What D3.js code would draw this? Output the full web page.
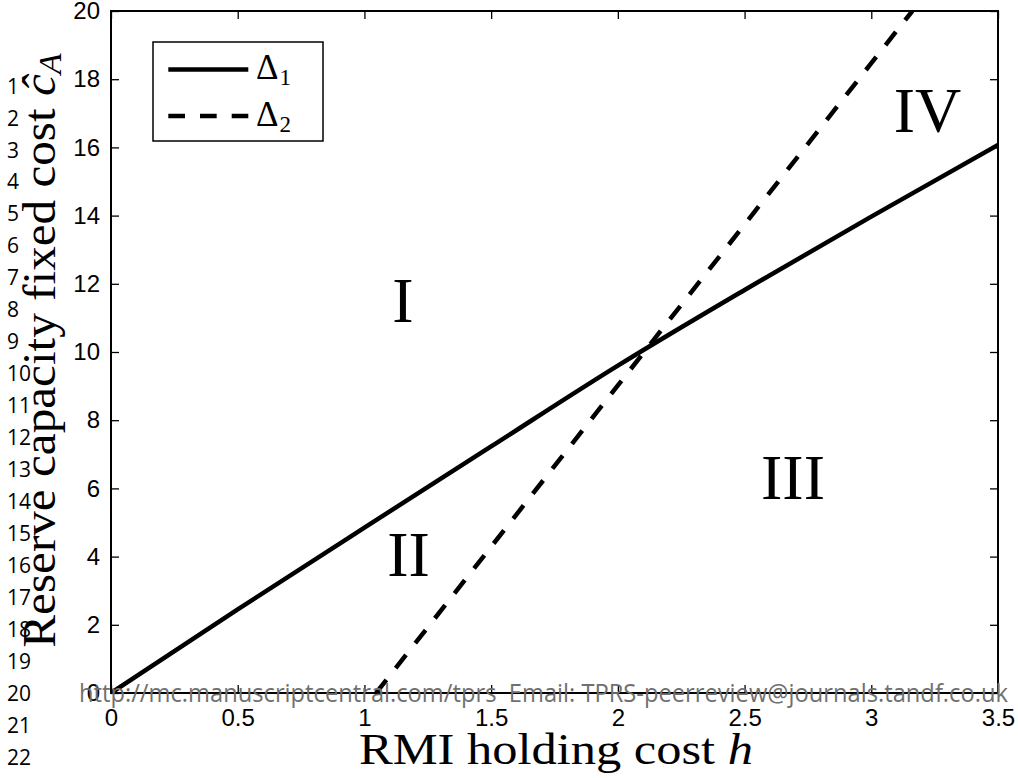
<!DOCTYPE html>
<html>
<head>
<meta charset="utf-8">
<script src="https://cdn.jsdelivr.net/npm/d3@7"></script>
<style>
  body { margin: 0; background: #fff; }
  svg { display: block; }
</style>
</head>
<body>
<svg id="chart" width="1018" height="778"></svg>
<script>
// Tick values and their labels
const hTicks = [0, 0.5, 1, 1.5, 2, 2.5, 3, 3.5];
const hTickLabels = ["0", "0.5", "1", "1.5", "2", "2.5", "3", "3.5"];
const cTicks = [0, 2, 4, 6, 8, 10, 12, 14, 16, 18, 20];
const cTickLabels = ["0", "2", "4", "6", "8", "10", "12", "14", "16", "18", "20"];

// Threshold curve Δ1 (solid)
const delta1H = [0, 0.5, 1, 1.5, 2, 2.5, 3, 3.5];
const delta1C = [0, 2.45, 4.85, 7.23, 9.6, 11.82, 13.97, 16.07];

// Threshold curve Δ2 (dashed)
const delta2H = [1.046, 1.5, 2, 2.5, 3, 3.162];
const delta2C = [0, 4.29, 9.02, 13.74, 18.47, 20];

// Region labels and their centres in data units
const regionNames = ["I", "II", "III", "IV"];
const regionH = [1.152, 1.174, 2.691, 3.222];
const regionC = [11.5, 4.05, 6.31, 17.07];

// Legend entries
const legendSubs = ["1", "2"];

// Manuscript line numbers down the left margin
const lineNumbers = d3.range(1, 23);
const footerText = "http://mc.manuscriptcentral.com/tprs  Email: TPRS-peerreview@journals.tandf.co.uk";

const svg = d3.select("#chart");
const plot = { left: 111, right: 998, top: 11, bottom: 693 };

const x = d3.scaleLinear().domain([0, 3.5]).range([plot.left, plot.right]);
const y = d3.scaleLinear().domain([0, 20]).range([plot.bottom, plot.top]);

const serif = "'Liberation Serif', 'Times New Roman', serif";
const sans = "'Liberation Sans', Arial, Helvetica, sans-serif";
const marginFont = "'Open Sans', 'Noto Sans', sans-serif";

// Line numbers
svg.append("g")
  .selectAll("text")
  .data(lineNumbers)
  .join("text")
  .attr("x", 7)
  .attr("y", (d, i) => 86 + i * 31.95 + 7.6)
  .attr("font-family", marginFont)
  .attr("font-size", 21)
  .attr("fill", "#000")
  .text(d => d);

// Clip for curves
svg.append("defs").append("clipPath").attr("id", "plotClip")
  .append("rect")
  .attr("x", plot.left).attr("y", plot.top)
  .attr("width", plot.right - plot.left).attr("height", plot.bottom - plot.top);

// Axes (ticks pointing inward, boxed frame)
const fmtH = (d, i) => hTickLabels[i];
const fmtC = (d, i) => cTickLabels[i];

const xAxis = svg.append("g")
  .attr("transform", `translate(0,${plot.bottom})`)
  .call(d3.axisBottom(x).tickValues(hTicks).tickFormat(fmtH).tickSizeInner(-8).tickSizeOuter(0).tickPadding(16));
const xAxisTop = svg.append("g")
  .attr("transform", `translate(0,${plot.top})`)
  .call(d3.axisTop(x).tickValues(hTicks).tickFormat("").tickSizeInner(-8).tickSizeOuter(0));
const yAxis = svg.append("g")
  .attr("transform", `translate(${plot.left},0)`)
  .call(d3.axisLeft(y).tickValues(cTicks).tickFormat(fmtC).tickSizeInner(-8).tickSizeOuter(0).tickPadding(11));
const yAxisRight = svg.append("g")
  .attr("transform", `translate(${plot.right},0)`)
  .call(d3.axisRight(y).tickValues(cTicks).tickFormat("").tickSizeInner(-8).tickSizeOuter(0));

[xAxis, xAxisTop, yAxis, yAxisRight].forEach(g => {
  g.attr("font-family", sans).attr("font-size", 24);
  g.select(".domain").remove();
  g.selectAll(".tick line").attr("stroke", "#000").attr("stroke-width", 1.3);
  g.selectAll("text").attr("font-family", sans).attr("font-size", 24).attr("fill", "#000");
});

// Plot frame
svg.append("rect")
  .attr("x", plot.left).attr("y", plot.top)
  .attr("width", plot.right - plot.left).attr("height", plot.bottom - plot.top)
  .attr("fill", "none").attr("stroke", "#000").attr("stroke-width", 2);

// Curves
const line = d3.line().x(d => x(d[0])).y(d => y(d[1])).curve(d3.curveMonotoneX);
const curves = svg.append("g").attr("clip-path", "url(#plotClip)");
curves.append("path")
  .datum(d3.zip(delta1H, delta1C))
  .attr("d", line)
  .attr("fill", "none").attr("stroke", "#000").attr("stroke-width", 4.5);
curves.append("path")
  .datum(d3.zip(delta2H, delta2C))
  .attr("d", line)
  .attr("fill", "none").attr("stroke", "#000").attr("stroke-width", 4.5)
  .attr("stroke-dasharray", "16.7,15");

// Region labels
svg.append("g")
  .selectAll("text")
  .data(regionNames)
  .join("text")
  .attr("x", (d, i) => x(regionH[i]))
  .attr("y", (d, i) => y(regionC[i]))
  .attr("dy", "0.33em")
  .attr("text-anchor", "middle")
  .attr("font-family", serif)
  .attr("font-size", 64)
  .attr("fill", "#000")
  .text(d => d);

// Legend
const legend = svg.append("g");
legend.append("rect")
  .attr("x", 153).attr("y", 42).attr("width", 170).attr("height", 99)
  .attr("fill", "#fff").attr("stroke", "#000").attr("stroke-width", 1.5);
const legendRows = [69.5, 116];
legendSubs.forEach((s, i) => {
  const row = legend.append("g");
  row.append("line")
    .attr("x1", 168.3).attr("x2", 248.3)
    .attr("y1", legendRows[i]).attr("y2", legendRows[i])
    .attr("stroke", "#000").attr("stroke-width", 4.5)
    .attr("stroke-dasharray", i === 1 ? "16.7,15" : null);
  const t = row.append("text")
    .attr("x", 256).attr("y", legendRows[i] + 9.5)
    .attr("font-family", serif).attr("font-size", 35).attr("fill", "#000");
  t.append("tspan").text("Δ");
  t.append("tspan").attr("font-size", 23).attr("dy", 6).attr("dx", 1).text(s);
});

// Axis titles, stretched to the width of the serif face used for the math labels
function fitLabel(g, text, target, base) {
  const w = text.node().getBBox().width;
  g.attr("transform", base + ` scale(${target / w},1)`);
}

const xTitleG = svg.append("g");
const xTitle = xTitleG.append("text")
  .attr("text-anchor", "middle")
  .attr("font-family", serif).attr("font-size", 45).attr("fill", "#000");
xTitle.append("tspan").text("RMI holding cost ");
xTitle.append("tspan").attr("font-style", "italic").text("h");
fitLabel(xTitleG, xTitle, 394, "translate(556,764)");

const yTitleG = svg.append("g");
const yTitle = yTitleG.append("text")
  .attr("text-anchor", "middle")
  .attr("font-family", serif).attr("font-size", 46).attr("fill", "#000");
yTitle.append("tspan").text("Reserve capacity fixed cost ");
yTitle.append("tspan").attr("font-style", "italic").text("ĉ");
yTitle.append("tspan").attr("font-style", "italic").attr("font-size", 32).attr("dy", 6).text("A");
fitLabel(yTitleG, yTitle, 595, "translate(55,350.5) rotate(-90)");

// Footer overlay
const footG = svg.append("g");
const foot = footG.append("text")
  .attr("font-family", marginFont).attr("font-size", 25)
  .attr("fill", "#707070")
  .attr("xml:space", "preserve")
  .style("white-space", "pre")
  .text(footerText);
fitLabel(footG, foot, 929, "translate(79,702)");
</script>
</body>
</html>
